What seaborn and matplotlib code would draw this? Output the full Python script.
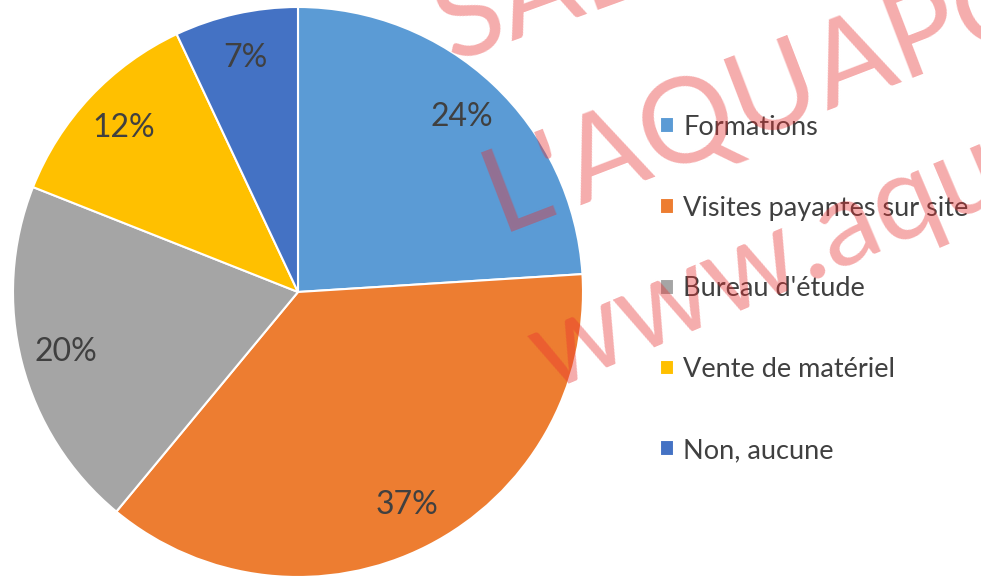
import matplotlib
matplotlib.use("Agg")
import seaborn as sns
from matplotlib import pyplot as plt

# data
categories = ["Formations", "Visites payantes sur site", "Bureau d'étude",
              "Vente de matériel", "Non, aucune"]
shares = [24, 37, 20, 12, 7]
slice_colors = ["#5B9BD5", "#ED7D31", "#A5A5A5", "#FFC000", "#4472C4"]
watermark_lines = ["SAL", "L'AQUAPO", "www.aqu"]

sns.set_theme(style="white")
plt.rcParams["font.family"] = ["Lato", "DejaVu Sans"]
text_color = "#404040"

fig = plt.figure(figsize=(9.81, 5.77), dpi=100)
ax = fig.add_axes([13 / 981, 0.0, 570 / 981, 570 / 577])

wedges, _, autotexts = ax.pie(
    shares, colors=slice_colors, startangle=90, counterclock=False,
    autopct=lambda p: f"{p:.0f}%", pctdistance=0.84, radius=1,
    wedgeprops=dict(edgecolor="white", linewidth=1.5),
    textprops=dict(color=text_color, fontsize=23))
ax.set_xlim(-1, 1)
ax.set_ylim(-1, 1)
ax.set_aspect("equal")
ax.axis("off")

fig.legend(wedges, categories, loc="upper left", bbox_to_anchor=(660 / 981, 0.801),
           frameon=False, fontsize=19.5, labelcolor=text_color,
           handlelength=0.52, handleheight=0.52, handletextpad=0.33,
           labelspacing=2.06, borderpad=0, borderaxespad=0)

# watermark over the chart
wm_pos = [(0.459, 0.893, 20), (0.510, 0.598, 21), (0.559, 0.321, 23)]
for txt, (x, y, rot) in zip(watermark_lines, wm_pos):
    fig.text(x, y, txt, fontsize=86, color="#E83030", alpha=0.4,
             rotation=rot, rotation_mode="anchor", ha="left", va="baseline",
             family=["Lato", "DejaVu Sans"], zorder=10)

fig.savefig("out.png", dpi=100)
